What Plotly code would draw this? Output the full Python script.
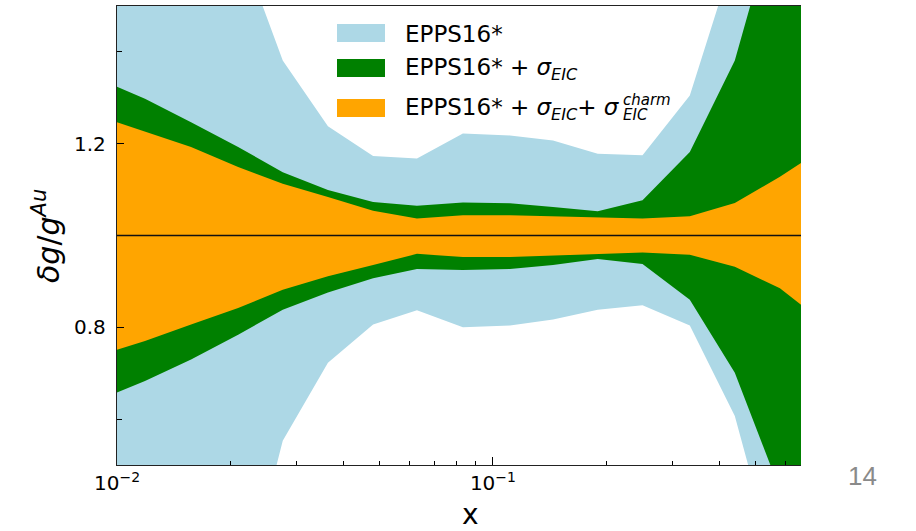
import plotly.graph_objects as go

# Sampled x grid (log-spaced momentum fraction)
x_vals = [0.01, 0.01187, 0.01574, 0.0210, 0.0276, 0.0364, 0.0480, 0.0628, 0.0832,
          0.111, 0.1445, 0.190, 0.250, 0.334, 0.440, 0.580, 0.660]

# EPPS16* uncertainty band (relative)
epps_upper = [2.00, 1.95, 1.85, 1.645, 1.381, 1.238, 1.173, 1.168, 1.222,
              1.218, 1.207, 1.178, 1.175, 1.305, 1.615, 2.20, 2.40]
epps_lower = [0.00, 0.02, 0.08, 0.17, 0.553, 0.723, 0.806, 0.837, 0.800,
              0.804, 0.817, 0.838, 0.848, 0.804, 0.607, 0.245, 0.15]

# EPPS16* + sigma_EIC
eic_upper = [1.324, 1.298, 1.247, 1.193, 1.138, 1.099, 1.073, 1.065, 1.072,
             1.070, 1.062, 1.053, 1.077, 1.182, 1.381, 1.73, 1.85]
eic_lower = [0.658, 0.683, 0.730, 0.784, 0.838, 0.876, 0.907, 0.927, 0.925,
             0.927, 0.936, 0.949, 0.938, 0.860, 0.701, 0.446, 0.38]

# EPPS16* + sigma_EIC + sigma_EIC^charm
charm_upper = [1.247, 1.227, 1.193, 1.149, 1.113, 1.084, 1.054, 1.037, 1.044,
               1.044, 1.042, 1.039, 1.037, 1.042, 1.071, 1.128, 1.158]
charm_lower = [0.751, 0.770, 0.806, 0.842, 0.882, 0.911, 0.936, 0.960, 0.953,
               0.953, 0.956, 0.960, 0.963, 0.958, 0.932, 0.885, 0.849]

band_names = ["EPPS16*", "EPPS16* + σ_EIC", "EPPS16* + σ_EIC + σ_EIC^charm"]
band_colors = ["#ADD8E6", "#008000", "#FFA500"]

x_major = [0.01, 0.1]
x_major_text = ["10<sup>−2</sup>", "10<sup>−1</sup>"]
x_minor = [0.02, 0.03, 0.04, 0.05, 0.06, 0.07, 0.08, 0.09, 0.2, 0.3, 0.4, 0.5, 0.6]
y_major = [0.8, 1.2]
y_minor = [0.6, 1.0, 1.4]

W, H = 916, 531
L, R, T, B = 117, 115, 6, 66
PW, PH = W - L - R, H - T - B


def px(xp):
    return (xp - L) / PW


def py(yp):
    return (H - B - yp) / PH


FONT = "DejaVu Sans"

fig = go.Figure()
bands = [(epps_upper, epps_lower), (eic_upper, eic_lower), (charm_upper, charm_lower)]
for (up, lo), name, col in zip(bands, band_names, band_colors):
    fig.add_trace(go.Scatter(
        x=x_vals + x_vals[::-1], y=up + lo[::-1],
        fill="toself", fillcolor=col, mode="lines",
        line=dict(width=0, color=col), name=name,
        hoverinfo="skip", showlegend=False))

# unity reference line
fig.add_shape(type="line", xref="paper", x0=0, x1=1, yref="y", y0=1.0, y1=1.0,
              line=dict(color="#111111", width=1.3), layer="above")

# legend swatches and labels
legend_rows = [33, 68, 108]
for yc, col in zip(legend_rows, band_colors):
    fig.add_shape(type="rect", xref="paper", yref="paper",
                  x0=px(337), x1=px(385), y0=py(yc + 9), y1=py(yc - 9),
                  fillcolor=col, line=dict(width=0), layer="above")

legend_texts = [
    "EPPS16*",
    "EPPS16* + <i>σ</i><sub><i>EIC</i></sub>",
    "EPPS16* + <i>σ</i><sub><i>EIC</i></sub>+ <i>σ</i>",
]
for yc, txt in zip(legend_rows, legend_texts):
    fig.add_annotation(x=px(403), y=py(yc + 1), xref="paper", yref="paper",
                       text=txt, showarrow=False, xanchor="left", yanchor="middle",
                       font=dict(family=FONT, size=23, color="black"))
fig.add_annotation(x=px(621), y=py(100), xref="paper", yref="paper",
                   text="<i>charm</i>", showarrow=False, xanchor="left", yanchor="middle",
                   font=dict(family=FONT, size=15, color="black"))
fig.add_annotation(x=px(621), y=py(115), xref="paper", yref="paper",
                   text="<i>EIC</i>", showarrow=False, xanchor="left", yanchor="middle",
                   font=dict(family=FONT, size=15, color="black"))

# axis titles
fig.add_annotation(x=px(470), y=py(514), xref="paper", yref="paper", text="x",
                   showarrow=False, xanchor="center", yanchor="middle",
                   font=dict(family=FONT, size=28, color="black"))
fig.add_annotation(x=px(46), y=py(236), xref="paper", yref="paper",
                   text="<i>δg</i>/<i>g</i><sup><i>Au</i></sup>", textangle=-90,
                   showarrow=False, xanchor="center", yanchor="middle",
                   font=dict(family=FONT, size=30, color="black"))

# page number
fig.add_annotation(x=px(863), y=py(476), xref="paper", yref="paper", text="14",
                   showarrow=False, xanchor="center", yanchor="middle",
                   font=dict(family="Liberation Sans", size=26, color="#8a8a8a"))

fig.update_layout(
    width=W, height=H, margin=dict(l=L, r=R, t=T, b=B),
    paper_bgcolor="white", plot_bgcolor="white", showlegend=False,
    xaxis=dict(type="log", range=[-2, -0.1805], tickmode="array",
               tickvals=x_major, ticktext=x_major_text,
               ticks="inside", ticklen=8, tickwidth=1.1, tickcolor="black",
               minor=dict(tickmode="array", tickvals=x_minor, ticks="inside",
                          ticklen=4, tickwidth=1, tickcolor="black"),
               showgrid=False, zeroline=False, showline=True, mirror=True,
               linecolor="#222222", linewidth=1.3,
               tickfont=dict(family=FONT, size=20, color="black")),
    yaxis=dict(range=[0.5, 1.5], tickmode="array", tickvals=y_major,
               ticktext=["0.8", "1.2"],
               ticks="inside", ticklen=7, tickwidth=1.1, tickcolor="black",
               minor=dict(tickmode="array", tickvals=y_minor, ticks="inside",
                          ticklen=5, tickwidth=1, tickcolor="black"),
               showgrid=False, zeroline=False, showline=True,
               linecolor="#222222", linewidth=1.3, ticklabelstandoff=6,
               tickfont=dict(family=FONT, size=20, color="black")),
)

fig.write_html("out.html")
